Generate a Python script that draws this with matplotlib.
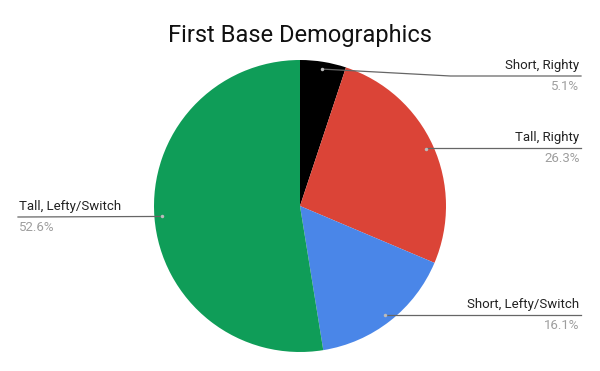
import numpy as np
import matplotlib.pyplot as plt

labels = ['Short, Righty', 'Tall, Righty', 'Short, Lefty/Switch', 'Tall, Lefty/Switch']
shares = [5.1, 26.3, 16.1, 52.6]
colors = ['#000000', '#db4437', '#4a86e8', '#0f9d58']

plt.rcParams['font.family'] = ['Roboto', 'DejaVu Sans']

fig = plt.figure(figsize=(6, 3.71), dpi=100)
fig.text(0.5, 1 - 42 / 371, 'First Base Demographics', ha='center', va='baseline',
         fontsize=17, color='#111111')

# pie centred at (300, 206) px with radius 146 px
r_px = 146
ax = fig.add_axes([(300 - r_px) / 600, (371 - 206 - r_px) / 371, 2 * r_px / 600, 2 * r_px / 371])
ax.pie(shares, colors=colors, startangle=90, counterclock=False, radius=1,
       wedgeprops=dict(linewidth=0))
ax.set_xlim(-1, 1)
ax.set_ylim(-1, 1)
ax.set_aspect('equal')
ax.axis('off')

# label line heights (px from top) and sides
line_y_px = [76, 148, 315, 217]
right_x = (581 - 300) / r_px
left_x = (18 - 300) / r_px

cum = np.cumsum([0] + shares[:-1])
for lab, s, c0, ypx in zip(labels, shares, cum, line_y_px):
    mid = np.deg2rad(90 - (c0 + s / 2) / 100 * 360)
    dx, dy = 0.95 * np.cos(mid), 0.95 * np.sin(mid)
    ly = (206 - ypx) / r_px
    if dx >= 0:
        xs = [dx, abs(dy) > 0.8 and 1.03 or dx, right_x]
        ax.plot(xs, [dy, ly, ly], color='#666666', lw=0.9, clip_on=False)
        ax.text(right_x - 0.01, ly + 0.025, lab, ha='right', va='bottom', fontsize=9.5,
                color='#222222', clip_on=False)
        ax.text(right_x - 0.01, ly - 0.03, f'{s}%', ha='right', va='top', fontsize=9.5,
                color='#9e9e9e', clip_on=False)
    else:
        ax.plot([left_x, dx], [ly, dy], color='#666666', lw=0.9, clip_on=False)
        ax.text(left_x + 0.01, ly + 0.025, lab, ha='left', va='bottom', fontsize=9.5,
                color='#222222', clip_on=False)
        ax.text(left_x + 0.01, ly - 0.03, f'{s}%', ha='left', va='top', fontsize=9.5,
                color='#9e9e9e', clip_on=False)
    ax.plot(dx, dy, 'o', ms=2.5, color='#bbbbbb', mec='none', clip_on=False)

fig.savefig('out.png', dpi=100)
